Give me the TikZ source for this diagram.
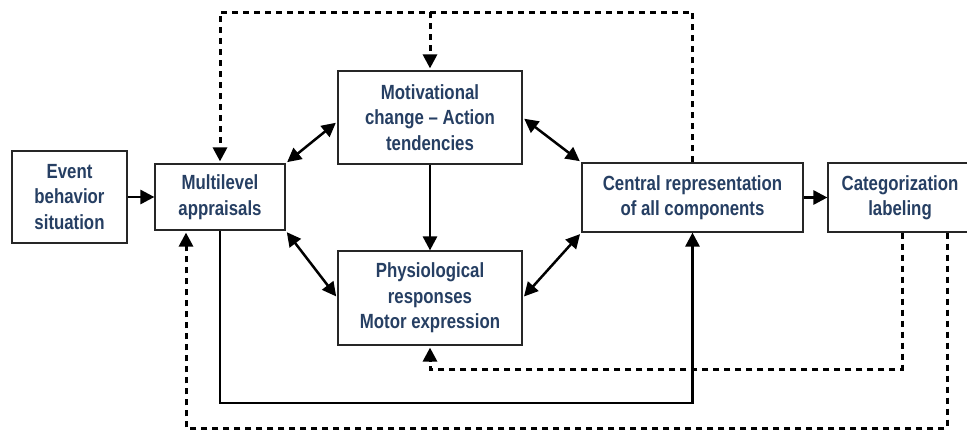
\documentclass[tikz,border=0pt]{standalone}
\usepackage{fontspec}
\setmainfont[FakeStretch=0.82]{Liberation Sans}
\usetikzlibrary{arrows.meta}
\definecolor{txt}{RGB}{38,63,99}
\begin{document}
\begin{tikzpicture}[x=1pt,y=-1pt,
  box/.style={draw=black!85, line width=1.2pt, fill=white, inner sep=0pt, align=center,
    font=\bfseries\fontsize{20.5}{25.5}\selectfont, text=txt},
  tip/.style={-{Triangle[length=14pt,width=14pt]}},
  conn/.style={line width=2.8pt, tip},
  dbl/.style={line width=2.5pt, {Triangle[length=14pt,width=14pt]}-{Triangle[length=14pt,width=14pt]}, shorten <=2pt, shorten >=2pt},
  dotl/.style={line width=3pt, dash pattern=on 6pt off 5pt},
  dotarr/.style={dotl, tip, shorten >=2pt}
]
\useasboundingbox (0,0) rectangle (967,431);
\node[box, minimum width=115pt, minimum height=92pt] (event) at (69.5,197) {Event\\behavior\\situation};
\node[box, minimum width=130pt, minimum height=66pt] (multi) at (220,197) {Multilevel\\appraisals};
\node[box, minimum width=184pt, minimum height=93pt] (motiv) at (430,117.5) {Motivational\\change -- Action\\tendencies};
\node[box, minimum width=184pt, minimum height=94pt] (phys) at (430,298) {Physiological\\responses\\Motor expression};
\node[box, minimum width=221pt, minimum height=69pt] (central) at (692.5,197.5) {Central representation\\of all components};
\node[box, minimum width=144pt, minimum height=69pt] (categ) at (900,197.5) {Categorization\\labeling};

\coordinate (top) at (0,12);
\coordinate (sb) at (0,403);
\coordinate (mid) at (0,369);
\coordinate (bot) at (0,428);
\coordinate (c1) at ([xshift=2pt]categ.south);
\coordinate (c2) at ([xshift=47pt]categ.south);
\coordinate (m2) at ([xshift=-34pt]multi.south);

% solid arrows
\draw[conn] (event) -- (multi);
\draw[conn] (central) -- (categ);
\draw[conn] (motiv) -- (phys);
\draw[conn] (multi.south) -- (multi.south |- sb) -| (central.south);

% double arrows
\draw[dbl] (multi.north east) -- ([yshift=-4pt]motiv.west);
\draw[dbl] (motiv.east) -- (central.north west);
\draw[dbl] (multi.south east) -- (phys.west);
\draw[dbl] (phys.east) -- (central.south west);

% dotted feedback loops
\draw[dotarr] (central.north) -- (central.north |- top) -- (multi.north |- top) -- (multi.north);
\draw[dotarr] (motiv.north |- top) -- (motiv.north);
\draw[dotarr] (c1) -- (c1 |- mid) -| (phys.south);
\draw[dotarr] (c2) -- (c2 |- bot) -| (m2);
\end{tikzpicture}
\end{document}
